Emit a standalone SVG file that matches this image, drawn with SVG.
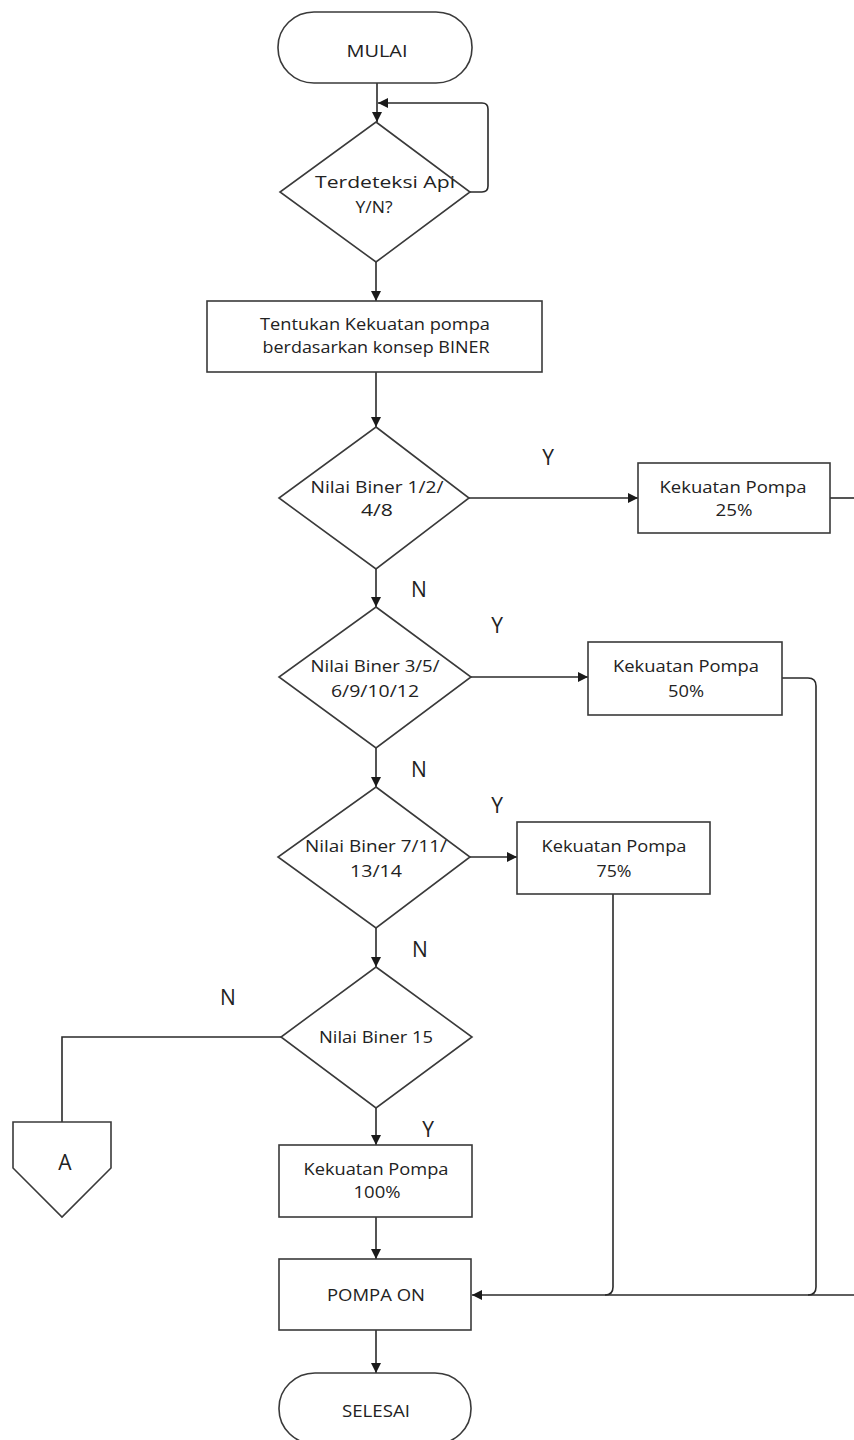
<svg xmlns="http://www.w3.org/2000/svg" width="854" height="1440" viewBox="0 0 854 1440">
<defs>
<marker id="arr" viewBox="0 0 10 10" refX="10" refY="5" markerWidth="10" markerHeight="10" markerUnits="userSpaceOnUse" orient="auto">
<path d="M0,0 L10,5 L0,10 z" fill="#1a1a1a"/>
</marker>
<style>
.s{fill:#fff;stroke:#3a3a3a;stroke-width:1.6}
.c{fill:none;stroke:#2a2a2a;stroke-width:1.6}
.t{font-family:"Open Sans","Liberation Sans",sans-serif;font-size:17px;fill:#222;text-anchor:middle}
.l{font-family:"Open Sans","Liberation Sans",sans-serif;font-size:21px;fill:#222;text-anchor:middle}
</style>
</defs>
<rect width="854" height="1440" fill="#fff"/>
<g id="connectors">
<path class="c" d="M377,83 V122" marker-end="url(#arr)"/>
<path class="c" d="M470,192 H482 Q488,192 488,186 V109 Q488,103 482,103 H378" marker-end="url(#arr)"/>
<path class="c" d="M376,262 V301" marker-end="url(#arr)"/>
<path class="c" d="M376,372 V427" marker-end="url(#arr)"/>
<path class="c" d="M376,569 V607" marker-end="url(#arr)"/>
<path class="c" d="M376,748 V787" marker-end="url(#arr)"/>
<path class="c" d="M376,928 V967" marker-end="url(#arr)"/>
<path class="c" d="M376,1108 V1145" marker-end="url(#arr)"/>
<path class="c" d="M376,1217 V1259" marker-end="url(#arr)"/>
<path class="c" d="M376,1330 V1373" marker-end="url(#arr)"/>
<path class="c" d="M469,498 H638" marker-end="url(#arr)"/>
<path class="c" d="M471,677 H588" marker-end="url(#arr)"/>
<path class="c" d="M470,857 H517" marker-end="url(#arr)"/>
<path class="c" d="M830,498 H860"/>
<path class="c" d="M782,678 H808 Q816,678 816,686 V1287 Q816,1295 808,1295"/>
<path class="c" d="M613,894 V1287 Q613,1295 605,1295"/>
<path class="c" d="M860,1295 H472" marker-end="url(#arr)"/>
<path class="c" d="M281,1037 H62 V1122"/>
</g>
<g id="mulai">
<rect class="s" x="278" y="12" width="194" height="71" rx="36" ry="35"/>
<text class="t" x="377" y="57" textLength="61" lengthAdjust="spacingAndGlyphs">MULAI</text>
</g>
<g id="d1">
<polygon class="s" points="376,122 470,192 376,262 280,192"/>
<text class="t" x="385" y="188" textLength="140" lengthAdjust="spacingAndGlyphs">Terdeteksi Api</text>
<text class="t" x="374" y="213" textLength="37" lengthAdjust="spacingAndGlyphs">Y/N?</text>
</g>
<g id="tentukan">
<rect class="s" x="207" y="301" width="335" height="71"/>
<text class="t" x="375" y="330" textLength="230" lengthAdjust="spacingAndGlyphs">Tentukan Kekuatan pompa</text>
<text class="t" x="376" y="353" textLength="227" lengthAdjust="spacingAndGlyphs">berdasarkan konsep BINER</text>
</g>
<g id="d2">
<polygon class="s" points="376,427 469,498 376,569 279,498"/>
<text class="t" x="377" y="493" textLength="133" lengthAdjust="spacingAndGlyphs">Nilai Biner 1/2/</text>
<text class="t" x="377" y="516" textLength="32" lengthAdjust="spacingAndGlyphs">4/8</text>
</g>
<g id="p25">
<rect class="s" x="638" y="463" width="192" height="70"/>
<text class="t" x="733" y="493" textLength="147" lengthAdjust="spacingAndGlyphs">Kekuatan Pompa</text>
<text class="t" x="734" y="516" textLength="37" lengthAdjust="spacingAndGlyphs">25%</text>
</g>
<g id="d3">
<polygon class="s" points="376,607 471,677 376,748 279,677"/>
<text class="t" x="375" y="672" textLength="129" lengthAdjust="spacingAndGlyphs">Nilai Biner 3/5/</text>
<text class="t" x="375" y="697" textLength="88" lengthAdjust="spacingAndGlyphs">6/9/10/12</text>
</g>
<g id="p50">
<rect class="s" x="588" y="642" width="194" height="73"/>
<text class="t" x="686" y="672" textLength="146" lengthAdjust="spacingAndGlyphs">Kekuatan Pompa</text>
<text class="t" x="686" y="697" textLength="36" lengthAdjust="spacingAndGlyphs">50%</text>
</g>
<g id="d4">
<polygon class="s" points="376,787 470,857 376,928 278,857"/>
<text class="t" x="376" y="852" textLength="142" lengthAdjust="spacingAndGlyphs">Nilai Biner 7/11/</text>
<text class="t" x="376" y="877" textLength="52" lengthAdjust="spacingAndGlyphs">13/14</text>
</g>
<g id="p75">
<rect class="s" x="517" y="822" width="193" height="72"/>
<text class="t" x="614" y="852" textLength="145" lengthAdjust="spacingAndGlyphs">Kekuatan Pompa</text>
<text class="t" x="614" y="877" textLength="35" lengthAdjust="spacingAndGlyphs">75%</text>
</g>
<g id="d5">
<polygon class="s" points="376,967 472,1037 376,1108 281,1037"/>
<text class="t" x="376" y="1043" textLength="114" lengthAdjust="spacingAndGlyphs">Nilai Biner 15</text>
</g>
<g id="connA">
<polygon class="s" points="13,1122 111,1122 111,1168 62,1217 13,1168"/>
<text class="l" x="65" y="1170">A</text>
</g>
<g id="p100">
<rect class="s" x="279" y="1145" width="193" height="72"/>
<text class="t" x="376" y="1175" textLength="145" lengthAdjust="spacingAndGlyphs">Kekuatan Pompa</text>
<text class="t" x="377" y="1198" textLength="47" lengthAdjust="spacingAndGlyphs">100%</text>
</g>
<g id="pompaon">
<rect class="s" x="279" y="1259" width="192" height="71"/>
<text class="t" x="376" y="1301" textLength="98" lengthAdjust="spacingAndGlyphs">POMPA ON</text>
</g>
<g id="selesai">
<rect class="s" x="279" y="1373" width="192" height="71" rx="36" ry="35"/>
<text class="t" x="376" y="1417" textLength="68" lengthAdjust="spacingAndGlyphs">SELESAI</text>
</g>
<g id="labels">
<text class="l" x="548" y="465">Y</text>
<text class="l" x="419" y="597">N</text>
<text class="l" x="497" y="633">Y</text>
<text class="l" x="419" y="777">N</text>
<text class="l" x="497" y="813">Y</text>
<text class="l" x="420" y="957">N</text>
<text class="l" x="228" y="1005">N</text>
<text class="l" x="428" y="1137">Y</text>
</g>
</svg>
